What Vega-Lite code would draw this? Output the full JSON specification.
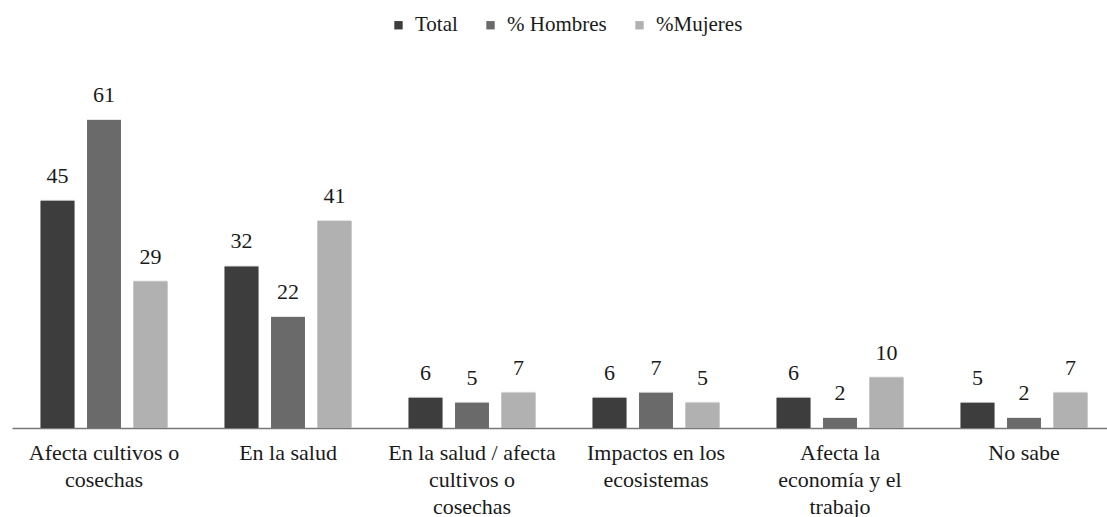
{
  "$schema": "https://vega.github.io/schema/vega-lite/v6.json",
  "width": 1104,
  "height": 353.5,
  "autosize": "none",
  "padding": {"left": 12, "top": 74.5, "right": 0, "bottom": 89},
  "background": "white",
  "config": {
    "view": {"stroke": null},
    "font": "Liberation Serif",
    "text": {"font": "Liberation Serif"}
  },
  "data": {
    "values": [
      {"categoria": "Afecta cultivos o|cosechas", "serie": "Total", "valor": 45},
      {"categoria": "Afecta cultivos o|cosechas", "serie": "% Hombres", "valor": 61},
      {"categoria": "Afecta cultivos o|cosechas", "serie": "%Mujeres", "valor": 29},
      {"categoria": "En la salud", "serie": "Total", "valor": 32},
      {"categoria": "En la salud", "serie": "% Hombres", "valor": 22},
      {"categoria": "En la salud", "serie": "%Mujeres", "valor": 41},
      {"categoria": "En la salud / afecta|cultivos o|cosechas", "serie": "Total", "valor": 6},
      {"categoria": "En la salud / afecta|cultivos o|cosechas", "serie": "% Hombres", "valor": 5},
      {"categoria": "En la salud / afecta|cultivos o|cosechas", "serie": "%Mujeres", "valor": 7},
      {"categoria": "Impactos en los|ecosistemas", "serie": "Total", "valor": 6},
      {"categoria": "Impactos en los|ecosistemas", "serie": "% Hombres", "valor": 7},
      {"categoria": "Impactos en los|ecosistemas", "serie": "%Mujeres", "valor": 5},
      {"categoria": "Afecta la|economía y el|trabajo", "serie": "Total", "valor": 6},
      {"categoria": "Afecta la|economía y el|trabajo", "serie": "% Hombres", "valor": 2},
      {"categoria": "Afecta la|economía y el|trabajo", "serie": "%Mujeres", "valor": 10},
      {"categoria": "No sabe", "serie": "Total", "valor": 5},
      {"categoria": "No sabe", "serie": "% Hombres", "valor": 2},
      {"categoria": "No sabe", "serie": "%Mujeres", "valor": 7}
    ]
  },
  "encoding": {
    "x": {
      "field": "categoria",
      "type": "nominal",
      "sort": null,
      "scale": {"paddingInner": 0.242, "paddingOuter": 0.121},
      "axis": {
        "title": null,
        "labelAngle": 0,
        "ticks": false,
        "labelExpr": "split(datum.label, '|')",
        "labelFontSize": 22,
        "labelColor": "#1a1a1a",
        "labelPadding": 14,
        "labelLineHeight": 27,
        "labelBaseline": "top",
        "labelLimit": 0,
        "domainColor": "#777777",
        "domainWidth": 1.5
      }
    },
    "xOffset": {
      "field": "serie",
      "sort": ["Total", "% Hombres", "%Mujeres"],
      "scale": {"paddingInner": 0.27, "paddingOuter": 0.135}
    },
    "y": {
      "field": "valor",
      "type": "quantitative",
      "scale": {"domain": [0, 70]},
      "axis": null
    }
  },
  "layer": [
    {
      "mark": {"type": "bar", "color": "#e4e4e4", "xOffset": 5, "yOffset": -1}
    },
    {
      "mark": {"type": "bar", "color": "#cccccc", "xOffset": 2}
    },
    {
      "mark": {"type": "bar"},
      "encoding": {
        "color": {
          "field": "serie",
          "type": "nominal",
          "sort": ["Total", "% Hombres", "%Mujeres"],
          "scale": {
            "domain": ["Total", "% Hombres", "%Mujeres"],
            "range": ["#3d3d3d", "#6a6a6a", "#b1b1b1"]
          },
          "legend": {
            "title": null,
            "orient": "none",
            "legendX": 376,
            "legendY": -60,
            "direction": "horizontal",
            "symbolType": "square",
            "symbolSize": 70,
            "symbolStrokeWidth": 0,
            "labelFontSize": 21,
            "labelColor": "#1a1a1a",
            "labelOffset": 6,
            "columnPadding": 22
          }
        }
      }
    },
    {
      "mark": {"type": "text", "baseline": "bottom", "dy": -13, "fontSize": 22, "color": "#1a1a1a"},
      "encoding": {"text": {"field": "valor", "type": "quantitative"}}
    }
  ]
}
